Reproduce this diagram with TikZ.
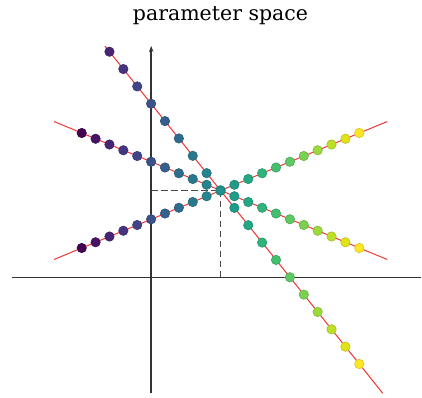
\documentclass[tikz,border=0pt]{standalone}
\usepackage{fontspec}
\setmainfont{DejaVu Serif}
\usetikzlibrary{arrows.meta}
\definecolor{v0}{HTML}{440154}
\definecolor{v1}{HTML}{471365}
\definecolor{v2}{HTML}{482475}
\definecolor{v3}{HTML}{463480}
\definecolor{v4}{HTML}{414487}
\definecolor{v5}{HTML}{3B528B}
\definecolor{v6}{HTML}{355F8D}
\definecolor{v7}{HTML}{2F6C8E}
\definecolor{v8}{HTML}{2A788E}
\definecolor{v9}{HTML}{25848E}
\definecolor{v10}{HTML}{21918C}
\definecolor{v11}{HTML}{1E9C89}
\definecolor{v12}{HTML}{22A884}
\definecolor{v13}{HTML}{2FB47C}
\definecolor{v14}{HTML}{44BF70}
\definecolor{v15}{HTML}{5EC962}
\definecolor{v16}{HTML}{7AD151}
\definecolor{v17}{HTML}{9BD93C}
\definecolor{v18}{HTML}{BDDF26}
\definecolor{v19}{HTML}{DFE318}
\definecolor{v20}{HTML}{FDE725}
\definecolor{axisgray}{HTML}{333333}
\definecolor{linered}{RGB}{240,55,55}
\tikzset{
  axisline/.style={draw=axisgray, line width=1.5pt},
  guideline/.style={draw=axisgray!90, line width=1.2pt, dash pattern=on 6.5pt off 3.5pt},
  redline/.style={draw=linered, line width=1pt},
  dot/.style={circle, inner sep=0pt, minimum size=9.4pt, line width=0.6pt},
  titletext/.style={font=\fontsize{20.5}{24}\selectfont, inner sep=0pt}
}
\begin{document}
\begin{tikzpicture}[x=1pt,y=-1pt]
\useasboundingbox (0,0) rectangle (422,397);
\node[titletext] (title) at (220.5,15.5) {parameter space};
% axes
\coordinate (xl) at (12,277.3);
\coordinate (xr) at (421,277.3);
\coordinate (yb) at (151.2,393);
\coordinate (yt) at (151.2,46);
\draw[axisline] (xl) -- (xr);
\draw[axisline, -{Stealth[length=6pt,width=4.5pt]}] (yb) -- (yt);
% intersection guides
\coordinate (P) at (220.5,190.5);
\coordinate (Py) at (151.2,190.5);
\coordinate (Px) at (220.5,277.3);
\draw[guideline] (Py) -- (P);
\draw[guideline] (P) -- (Px);
% red lines
\coordinate (a1) at (105,46.1);
\coordinate (a2) at (382.7,393.2);
\coordinate (b1) at (54,121.5);
\coordinate (b2) at (387.3,259.5);
\coordinate (c1) at (54,259.5);
\coordinate (c2) at (387.3,121.5);
\draw[redline] (a1) -- (a2);
\draw[redline] (b1) -- (b2);
\draw[redline] (c1) -- (c2);
% dots
\foreach \i in {0,...,20}{
  \pgfmathsetmacro{\xx}{81.7+13.88*\i}
  \pgfmathsetmacro{\yb}{190.5+(\i-10)*5.75}
  \pgfmathsetmacro{\yc}{190.5-(\i-10)*5.75}
  \node[dot, fill=v\i, draw=v\i!85!black] (b\i) at (\xx,\yb) {};
  \node[dot, fill=v\i, draw=v\i!85!black] (c\i) at (\xx,\yc) {};
}
\foreach \i in {2,...,20}{
  \pgfmathsetmacro{\xx}{81.7+13.88*\i}
  \pgfmathsetmacro{\ya}{190.5+(\i-10)*17.35}
  \node[dot, fill=v\i, draw=v\i!85!black] (a\i) at (\xx,\ya) {};
}
\end{tikzpicture}
\end{document}
